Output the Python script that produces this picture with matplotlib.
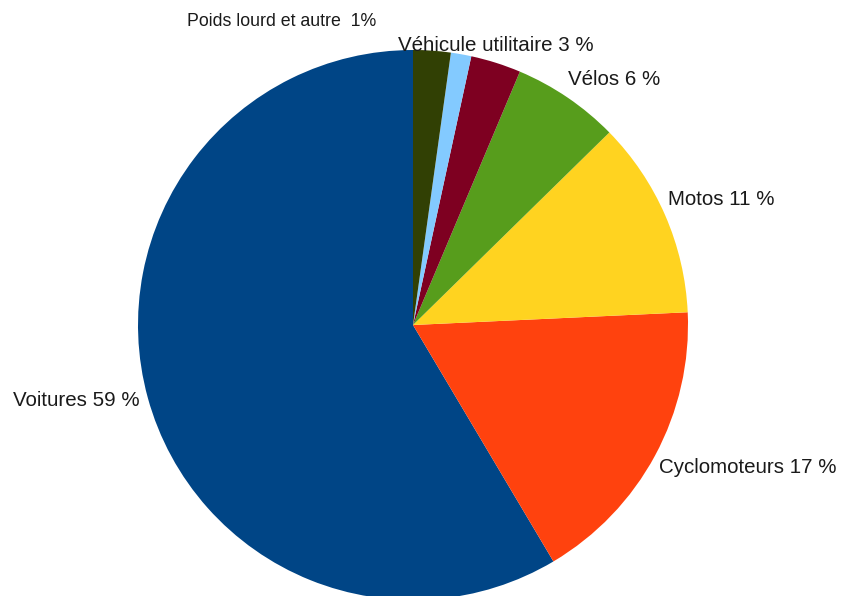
import matplotlib.pyplot as plt

# slices, counterclockwise from 12 o'clock
labels = ['Voitures 59 %', 'Cyclomoteurs 17 %', 'Motos 11 %', 'Vélos 6 %',
          'Véhicule utilitaire 3 %', 'Poids lourd et autre  1%', '']
values = [58.5, 17.2, 11.6, 6.3, 2.95, 1.2, 2.2]
colors = ['#004586', '#ff420e', '#ffd320', '#579d1c', '#7e0021', '#83caff', '#314004']

# label anchors (pie units, radius = 1) and font sizes
label_pos = [(-1.455, -0.276), (0.896, -0.519), (0.927, 0.455), (0.564, 0.891),
             (-0.055, 1.015), (-0.822, 1.102), (0, 0)]
label_size = [14.8, 14.8, 14.8, 14.8, 14.8, 12.8, 9]

fig = plt.figure(figsize=(8.45, 5.96), dpi=100)
ax = fig.add_axes([0, 0, 1, 1])
ax.pie(values, colors=colors, startangle=90, counterclock=True, radius=1.0,
       center=(0, 0), wedgeprops={'linewidth': 0})
ax.set_aspect('auto')
ax.set_xlim(-413 / 275, (845 - 413) / 275)
ax.set_ylim((325 - 596) / 275, 325 / 275)
ax.axis('off')

for lab, (x, y), fs in zip(labels, label_pos, label_size):
    if lab:
        ax.text(x, y, lab, fontsize=fs, family='Liberation Sans',
                ha='left', va='center', color='#1a1a1a')

fig.savefig('out.png', dpi=100)
